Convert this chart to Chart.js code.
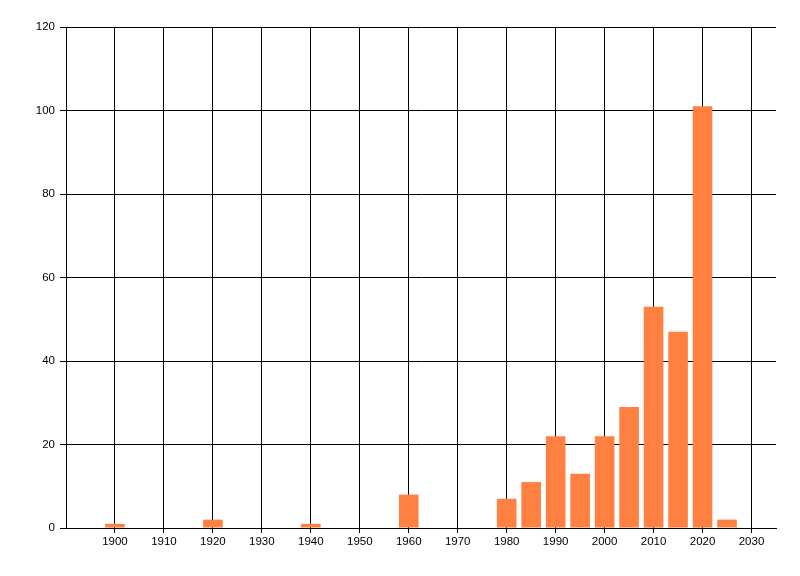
<!DOCTYPE html>
<html>
<head>
<meta charset="utf-8">
<script src="https://cdn.jsdelivr.net/npm/chart.js@4"></script>
<style>
html,body{margin:0;padding:0;background:#fff;}
#wrap{width:800px;height:576px;}
</style>
</head>
<body>
<div id="wrap"><canvas id="c" width="800" height="576"></canvas></div>
<script>
const years = [1900, 1920, 1940, 1960, 1980, 1985, 1990, 1995, 2000, 2005, 2010, 2015, 2020, 2025];
const counts = [1, 2, 1, 8, 7, 11, 22, 13, 22, 29, 53, 47, 101, 2];
const xTicks = [1900, 1910, 1920, 1930, 1940, 1950, 1960, 1970, 1980, 1990, 2000, 2010, 2020, 2030];
const yTicks = [0, 20, 40, 60, 80, 100, 120];

const font = {family: 'Liberation Sans', size: 11.5};
new Chart(document.getElementById('c'), {
  type: 'bar',
  data: {
    datasets: [{
      data: years.map((y, i) => ({x: y, y: counts[i]})),
      backgroundColor: '#FF8040',
      borderWidth: 0,
      barPercentage: 1,
      categoryPercentage: 0.8
    }]
  },
  options: {
    responsive: false,
    animation: false,
    layout: {padding: {left: 0, right: 24, top: 27, bottom: 0}},
    plugins: {legend: {display: false}, tooltip: {enabled: false}},
    scales: {
      x: {
        type: 'linear',
        min: 1890,
        max: 2035,
        offset: false,
        afterBuildTicks: s => { s.ticks = xTicks.map(v => ({value: v})); },
        afterFit: s => { s.height = 48; },
        grid: {color: '#000', lineWidth: 1, tickLength: 5, drawTicks: true, offset: false},
        border: {color: '#000', width: 1},
        ticks: {color: '#000', font: font, padding: 2, maxRotation: 0, autoSkip: false, callback: v => String(v)}
      },
      y: {
        min: 0,
        max: 120,
        afterBuildTicks: s => { s.ticks = yTicks.map(v => ({value: v})); },
        afterFit: s => { s.width = 66; },
        grid: {color: '#000', lineWidth: 1, tickLength: 6},
        border: {color: '#000', width: 1},
        ticks: {color: '#000', font: font, padding: 5}
      }
    }
  }
});
</script>
</body>
</html>
